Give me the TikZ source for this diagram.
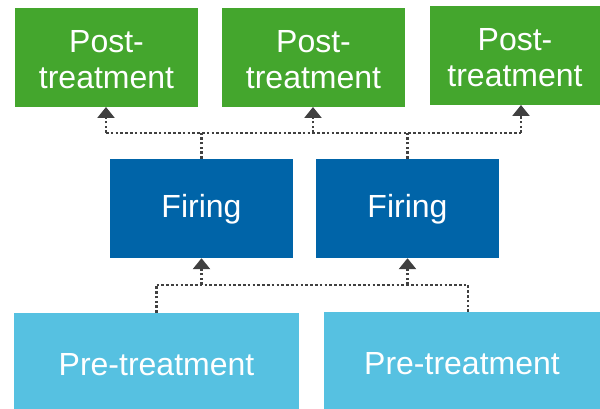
\documentclass[tikz,border=0pt]{standalone}
\usepackage{fontspec}
\setmainfont{Liberation Sans}
\usetikzlibrary{arrows.meta,positioning}
\definecolor{postgreen}{HTML}{44A62D}
\definecolor{firingblue}{HTML}{0064A8}
\definecolor{preblue}{HTML}{56C1E1}
\definecolor{linkgray}{HTML}{404040}
\tikzset{
  box/.style={draw=none, text=white, inner sep=0pt, align=center,
    font=\fontsize{32}{36}\selectfont},
  postbox/.style={box, fill=postgreen},
  firebox/.style={box, fill=firingblue, text height=23pt, text depth=4pt},
  prebox/.style={box, fill=preblue, text height=28pt, text depth=0pt},
  dots/.style={draw=linkgray, line width=2.6pt, dash pattern=on 2.6pt off 2.2pt},
  link/.style={dots, -{Triangle[width=17pt,length=11pt]}}
}
\begin{document}
\begin{tikzpicture}[x=1pt,y=-1pt]
  \useasboundingbox (0,0) rectangle (600,409);

  % product stages
  \node[postbox, minimum width=183pt, minimum height=99pt] (g1) at (106.5,57.5) {\rule{0pt}{26pt}Post-\\treatment};
  \node[postbox, minimum width=183pt, minimum height=99pt] (g2) at (313.5,57.5) {\rule{0pt}{26pt}Post-\\treatment};
  \node[postbox, minimum width=170pt, minimum height=99pt] (g3) at (515,55.5) {\rule{0pt}{26pt}Post-\\treatment};

  \node[firebox, minimum width=183pt, minimum height=99pt] (f1) at (201.5,208.5) {Firing};
  \node[firebox, minimum width=183pt, minimum height=99pt] (f2) at (407.5,208.5) {Firing};

  \node[prebox, minimum width=285pt, minimum height=96pt] (p1) at (156.5,361) {Pre-treatment};
  \node[prebox, minimum width=276pt, minimum height=97pt] (p2) at (462,360.5) {Pre-treatment};

  % bus heights and attachment points
  \coordinate (topbus) at (0,133);
  \coordinate (lowbus) at (0,285);
  \coordinate (g1in) at (106,107);
  \coordinate (g2in) at (313,107);
  \coordinate (g3in) at (521,105);
  \coordinate (p2out) at (468,312);

  % firing to post-treatment
  \draw[dots] (g1in |- topbus) -- (g3in |- topbus);
  \draw[dots] (f1.north) -- (f1.north |- topbus);
  \draw[dots] (f2.north) -- (f2.north |- topbus);
  \draw[link] (g1in |- topbus) -- (g1in);
  \draw[link] (g2in |- topbus) -- (g2in);
  \draw[link] (g3in |- topbus) -- (g3in);

  % pre-treatment to firing
  \draw[dots] (p1.north |- lowbus) -- (p2out |- lowbus);
  \draw[dots] (p1.north) -- (p1.north |- lowbus);
  \draw[dots] (p2out) -- (p2out |- lowbus);
  \draw[link] (f1.south |- lowbus) -- (f1.south);
  \draw[link] (f2.south |- lowbus) -- (f2.south);
\end{tikzpicture}
\end{document}
